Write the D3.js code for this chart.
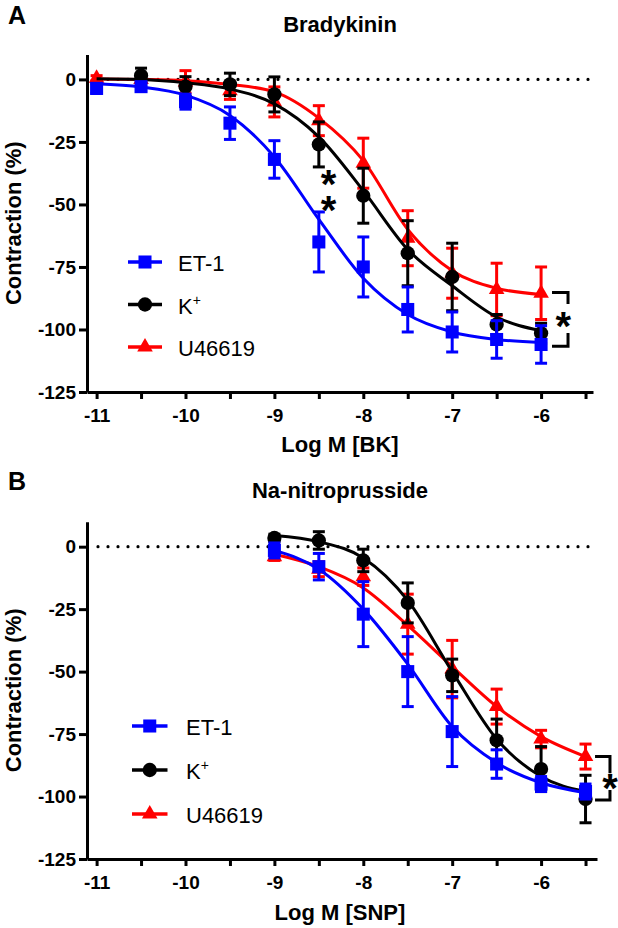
<!DOCTYPE html>
<html><head><meta charset="utf-8">
<script src="https://cdn.jsdelivr.net/npm/d3@7/dist/d3.min.js"></script>
<style>
html,body{margin:0;padding:0;background:#fff;}
svg{display:block;font-family:"Liberation Sans",Arial,Helvetica,sans-serif;}
</style></head><body>
<svg id="chart" width="618" height="928"></svg>
<script>
// ---------- Panel A : Bradykinin ----------
const logBK = [-11,-10.5,-10,-9.5,-9,-8.5,-8,-7.5,-7,-6.5,-6];
const et1_BK = [-3.6,-2.9,-8.9,-17.5,-32,-65,-75,-92,-101,-104,-106];
const et1_BK_sem = [2,1.5,3,6.5,7.5,12,12,9,8,7.5,7.5];
const k_BK = [null,1.5,-2.9,-2,-6,-26,-46.5,-69.5,-79,-98,-101.5];
const k_BK_sem = [null,3,4,4.5,7,9,11,13,13.5,4,4];
const u_BK = [0.5,0,-1,-4.5,-9,-16.5,-33.5,-63.5,-77.5,-84,-85.5];
const u_BK_sem = [1,2,4.5,3.5,6,6,10,11,10,10.5,10.5];
// fitted curves at the same concentrations
const et1_BK_fit = [-1.7,-3,-6.3,-14.4,-31,-56,-79.5,-94,-101,-104,-105.2];
const k_BK_fit = [0.3,0,-1.3,-3.8,-9.8,-23,-44.5,-68,-82.5,-95,-100.5];
const u_BK_fit = [0.2,0,-0.5,-2,-5,-15.5,-32.5,-60,-76.5,-83.5,-86];

// ---------- Panel B : Na-nitroprusside ----------
const logSNP = [-9,-8.5,-8,-7.5,-7,-6.5,-6,-5.5];
const et1_SNP = [-1.5,-8,-27,-50,-74,-87,-95,-98];
const et1_SNP_sem = [3,5.3,13,14,14,5.7,3,3];
const k_SNP = [3.5,2.5,-5.5,-22.5,-51.5,-77.5,-89,-101];
const k_SNP_sem = [1.5,3.5,4.5,8,6.5,8.5,9,9.5];
const u_SNP = [-4,-9,-12,-31,-49,-64,-77,-84];
const u_SNP_sem = [1.5,3,3.5,12,11.5,7,3.5,5];
const et1_SNP_fit = [-1.5,-9,-25,-47,-72,-86.5,-94.5,-98.5];
const k_SNP_fit = [4.5,2,-4.5,-21.5,-50,-77,-92,-98];
const u_SNP_fit = [-3,-8,-16.5,-31.5,-48,-64,-76,-84];

const yTicks = [0,-25,-50,-75,-100,-125];
const xTicks = [-11,-10.5,-10,-9.5,-9,-8.5,-8,-7.5,-7,-6.5,-6,-5.5];
const seriesNames = ["ET-1","K+","U46619"];
const seriesColors = {"ET-1":"#0000ff","K+":"#000000","U46619":"#ff0000"};

const svg = d3.select("#chart");
const FONT_BOLD = 700;

function drawPanel(p) {
  const g = svg.append("g");
  const x = d3.scaleLinear().domain(p.xDomain).range([87, p.xRight]);
  const y = d3.scaleLinear().domain([10, -125]).range([p.yTop, p.yBottom]);

  // zero dotted line
  g.append("line")
    .attr("x1", 98).attr("x2", x.range()[1])
    .attr("y1", y(0)).attr("y2", y(0))
    .attr("stroke", "#000").attr("stroke-width", 3.2)
    .attr("stroke-linecap", "round").attr("stroke-dasharray", "0,10");

  // axes
  const yAxis = d3.axisLeft(y).tickValues(yTicks).tickSize(8).tickPadding(3)
    .tickSizeOuter(0).tickFormat(d => String(d));
  const ya = g.append("g").attr("transform", `translate(${x.range()[0]},0)`).call(yAxis);
  const xAxis = d3.axisBottom(x).tickValues(xTicks).tickSize(7).tickPadding(10)
    .tickSizeOuter(0).tickFormat(d => Number.isInteger(d) ? String(d) : "");
  const xa = g.append("g").attr("transform", `translate(0,${y(-125)})`).call(xAxis);
  [ya, xa].forEach(a => {
    a.select(".domain").attr("stroke", "#000").attr("stroke-width", 3);
    a.selectAll(".tick line").attr("stroke", "#000").attr("stroke-width", 3);
    a.selectAll(".tick text").attr("fill", "#000").style("font-size", "19px")
      .style("font-weight", FONT_BOLD).style("font-family", "'Liberation Sans',Arial,sans-serif");
  });

  // titles
  g.append("text").attr("x", 8).attr("y", p.letterY).text(p.letter)
    .style("font-size", "25px").style("font-weight", FONT_BOLD);
  g.append("text").attr("x", 340).attr("y", p.titleY).attr("text-anchor", "middle")
    .text(p.title).style("font-size", "22px").style("font-weight", FONT_BOLD);
  g.append("text").attr("x", 340).attr("y", p.xTitleY).attr("text-anchor", "middle")
    .text(p.xTitle).style("font-size", "22px").style("font-weight", FONT_BOLD);
  const ymid = (p.yTop + p.yBottom) / 2;
  g.append("text").attr("transform", `translate(21,${ymid}) rotate(-90)`)
    .attr("text-anchor", "middle").text("Contraction (%)")
    .style("font-size", "22px").style("font-weight", FONT_BOLD);

  const shapes = {"ET-1": d3.symbolSquare, "K+": d3.symbolCircle, "U46619": d3.symbolTriangle};
  const sizes = {"ET-1": 170, "K+": 160, "U46619": 105};

  // draw order: U46619, K+, ET-1
  ["U46619","K+","ET-1"].forEach(name => {
    const s = p.series[name];
    const col = seriesColors[name];
    const pts = p.xs.map((xv, i) => ({x: xv, y: s.vals[i], e: s.sem[i]})).filter(d => d.y !== null);
    const fitPts = p.xs.map((xv, i) => ({x: xv, y: s.fit[i]}));
    g.append("path").datum(fitPts)
      .attr("d", d3.line().x(d => x(d.x)).y(d => y(d.y)).curve(d3.curveMonotoneX))
      .attr("fill", "none").attr("stroke", col).attr("stroke-width", 3);
    const eb = g.append("g").attr("stroke", col).attr("stroke-width", 3).attr("fill", "none");
    pts.forEach(d => {
      const cx = x(d.x), top = y(d.y + d.e), bot = y(d.y - d.e);
      eb.append("line").attr("x1", cx).attr("x2", cx).attr("y1", top).attr("y2", bot);
      eb.append("line").attr("x1", cx - 6).attr("x2", cx + 6).attr("y1", top).attr("y2", top);
      eb.append("line").attr("x1", cx - 6).attr("x2", cx + 6).attr("y1", bot).attr("y2", bot);
    });
    g.append("g").selectAll("path").data(pts).join("path")
      .attr("transform", d => `translate(${x(d.x)},${y(d.y)})`)
      .attr("d", d3.symbol().type(shapes[name]).size(sizes[name]))
      .attr("fill", col);
  });

  // legend
  seriesNames.forEach((name, i) => {
    const ly = p.legendY + i * p.legendGap;
    const col = seriesColors[name];
    g.append("line").attr("x1", p.legendX1).attr("x2", p.legendX2).attr("y1", ly).attr("y2", ly)
      .attr("stroke", col).attr("stroke-width", 3.5);
    g.append("path").attr("transform", `translate(${(p.legendX1 + p.legendX2) / 2},${ly})`)
      .attr("d", d3.symbol().type(shapes[name]).size(sizes[name])).attr("fill", col);
    const t = g.append("text").attr("x", p.legendTextX).attr("y", ly + 9)
      .style("font-size", "22px").attr("fill", "#000");
    if (name === "K+") {
      t.append("tspan").text("K");
      t.append("tspan").text("+").attr("dy", -9).style("font-size", "14px");
    } else {
      t.text(name);
    }
  });

  // significance asterisks: a stacked pair is one vertical text run
  p.stars.forEach(s => {
    const n = s.ys.length;
    if (n === 1) {
      g.append("text").attr("x", x(s.x)).attr("y", y(s.ys[0]) + 20).attr("text-anchor", "middle")
        .text("*").style("font-size", "40px").style("font-weight", FONT_BOLD);
    } else {
      const step = y(s.ys[1]) - y(s.ys[0]);
      const mid = (y(s.ys[0]) + y(s.ys[n - 1])) / 2;
      g.append("text").attr("x", x(s.x)).attr("y", mid + s.vOffset).attr("text-anchor", "middle")
        .style("writing-mode", "vertical-rl").style("text-orientation", "upright")
        .style("letter-spacing", `${step - 40}px`)
        .style("font-size", "40px").style("font-weight", FONT_BOLD)
        .text("*".repeat(n));
    }
  });
  // bracket
  const b = p.bracket;
  const bk = g.append("g").attr("stroke", "#000").attr("stroke-width", 3).attr("fill", "none");
  bk.append("path").attr("d",
    `M${x(b.x0)},${y(b.yTop)} H${x(b.x1)} V${y(b.gapTop)} M${x(b.x1)},${y(b.gapBot)} V${y(b.yBot)} H${x(b.x0)}`);
}

drawPanel({
  letter: "A", letterY: 23.5, title: "Bradykinin", titleY: 31.5,
  xTitle: "Log M [BK]", xTitleY: 451.5,
  xDomain: [-11.108, -5.416], xRight: 593, yTop: 54.4, yBottom: 392,
  xs: logBK,
  series: {
    "ET-1": {vals: et1_BK, sem: et1_BK_sem, fit: et1_BK_fit},
    "K+": {vals: k_BK, sem: k_BK_sem, fit: k_BK_fit},
    "U46619": {vals: u_BK, sem: u_BK_sem, fit: u_BK_fit}
  },
  legendY: 262, legendGap: 42.5, legendX1: 128, legendX2: 162, legendTextX: 178,
  stars: [{x: -8.39, ys: [-40.2, -49], vOffset: -3}, {x: -5.75, ys: [-96.1]}],
  bracket: {x0: -5.877, x1: -5.697, yTop: -85.2, yBot: -106.7, gapTop: -89.8, gapBot: -101.4}
});

drawPanel({
  letter: "B", letterY: 490, title: "Na-nitroprusside", titleY: 498,
  xTitle: "Log M [SNP]", xTitleY: 920,
  xDomain: [-11.108, -5.371], xRight: 597, yTop: 521.7, yBottom: 859,
  xs: logSNP,
  series: {
    "ET-1": {vals: et1_SNP, sem: et1_SNP_sem, fit: et1_SNP_fit},
    "K+": {vals: k_SNP, sem: k_SNP_sem, fit: k_SNP_fit},
    "U46619": {vals: u_SNP, sem: u_SNP_sem, fit: u_SNP_fit}
  },
  legendY: 726, legendGap: 44, legendX1: 132, legendX2: 167.5, legendTextX: 186,
  stars: [{x: -5.225, ys: [-94.2]}],
  bracket: {x0: -5.393, x1: -5.225, yTop: -84, yBot: -101.4, gapTop: -90.7, gapBot: -97.4}
});
</script>
</body></html>
